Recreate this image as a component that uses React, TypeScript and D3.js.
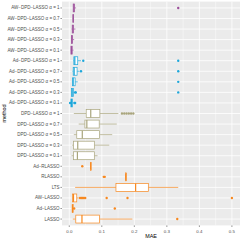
import React, { useEffect, useRef } from "react";
import * as d3 from "d3";

// methods, top to bottom as they appear on the y axis
const methods = [
  "AW−DPD−LASSO α = 1",
  "AW−DPD−LASSO α = 0.7",
  "AW−DPD−LASSO α = 0.5",
  "AW−DPD−LASSO α = 0.3",
  "AW−DPD−LASSO α = 0.1",
  "Ad−DPD−LASSO α = 1",
  "Ad−DPD−LASSO α = 0.7",
  "Ad−DPD−LASSO α = 0.5",
  "Ad−DPD−LASSO α = 0.3",
  "Ad−DPD−LASSO α = 0.1",
  "DPD−LASSO α = 1",
  "DPD−LASSO α = 0.7",
  "DPD−LASSO α = 0.5",
  "DPD−LASSO α = 0.3",
  "DPD−LASSO α = 0.1",
  "Ad−RLASSO",
  "RLASSO",
  "LTS",
  "AW−LASSO",
  "Ad−LASSO",
  "LASSO",
];

const groups = [
  "AW", "AW", "AW", "AW", "AW",
  "Ad", "Ad", "Ad", "Ad", "Ad",
  "DPD", "DPD", "DPD", "DPD", "DPD",
  "classic", "classic", "classic", "classic", "classic", "classic",
];

const groupColors: Record<string, string> = {
  AW: "#9C4F9A",
  Ad: "#1EA7DA",
  DPD: "#A9A57C",
  classic: "#F7881F",
};

// boxplot stats (MAE)
const lowers = [0.012, 0.011, 0.007, 0.005, 0.004, 0.012, 0.010, 0.008, 0.005, 0.003, 0.014, 0.029, 0.014, 0.009, 0.007, 0.065, 0.173, 0.018, 0.008, 0.008, 0.011];
const q1s = [0.012, 0.0115, 0.009, 0.007, 0.005, 0.014, 0.012, 0.010, 0.007, 0.005, 0.052, 0.048, 0.023, 0.013, 0.013, 0.065, 0.173, 0.1435, 0.010, 0.009, 0.020];
const medians = [0.014, 0.012, 0.011, 0.008, 0.007, 0.017, 0.015, 0.012, 0.009, 0.007, 0.066, 0.054, 0.040, 0.026, 0.025, 0.066, 0.174, 0.204, 0.013, 0.010, 0.039];
const q3s = [0.016, 0.0125, 0.013, 0.010, 0.009, 0.026, 0.024, 0.018, 0.013, 0.010, 0.094, 0.092, 0.093, 0.077, 0.077, 0.067, 0.175, 0.243, 0.023, 0.012, 0.093];
const uppers = [0.021, 0.013, 0.019, 0.015, 0.013, 0.036, 0.031, 0.026, 0.016, 0.014, 0.151, 0.146, 0.132, 0.123, 0.087, 0.067, 0.175, 0.335, 0.029, 0.013, 0.194];
const outliers: number[][] = [
  [0.335],
  [],
  [],
  [],
  [],
  [0.043, 0.335],
  [0.036, 0.335],
  [0.335],
  [0.018, 0.020, 0.335],
  [0.0025, 0.016, 0.018],
  [0.162, 0.169, 0.176, 0.183, 0.190, 0.197],
  [],
  [],
  [],
  [],
  [0.040],
  [0.106, 0.109],
  [],
  [0.033, 0.037, 0.041, 0.045, 0.049, 0.115, 0.179, 0.500],
  [0.015, 0.140],
  [0.332],
];

const xTicks = [0, 0.1, 0.2, 0.3, 0.4, 0.5];

const W = 242;
const H = 242;
const margin = { top: 1.6, right: 2, bottom: 16.6, left: 62 };
const font = "'Liberation Sans', Arial, Helvetica, sans-serif";

export default function App() {
  const ref = useRef<SVGSVGElement>(null);

  useEffect(() => {
    const svg = d3.select(ref.current);
    svg.selectAll("*").remove();

    const all = methods.flatMap((m, i) => [lowers[i], uppers[i], ...outliers[i]]);
    const [lo, hi] = d3.extent(all) as [number, number];
    const pad = (hi - lo) * 0.05;

    const x = d3.scaleLinear()
      .domain([lo - pad, hi + pad])
      .range([margin.left, W - margin.right]);

    const y = d3.scalePoint<string>()
      .domain(methods)
      .range([margin.top, H - margin.bottom])
      .padding(0.6);

    const boxH = y.step() * 0.75;

    // panel
    svg.append("rect")
      .attr("x", margin.left)
      .attr("y", margin.top)
      .attr("width", W - margin.right - margin.left)
      .attr("height", H - margin.bottom - margin.top)
      .attr("fill", "#EBEBEB");

    const minor = xTicks.slice(0, -1).map(t => t + 0.05);
    svg.append("g")
      .selectAll("line")
      .data(minor)
      .join("line")
      .attr("x1", d => x(d)).attr("x2", d => x(d))
      .attr("y1", margin.top).attr("y2", H - margin.bottom)
      .attr("stroke", "#FFFFFF")
      .attr("stroke-width", 0.4);

    svg.append("g")
      .selectAll("line")
      .data(xTicks)
      .join("line")
      .attr("x1", d => x(d)).attr("x2", d => x(d))
      .attr("y1", margin.top).attr("y2", H - margin.bottom)
      .attr("stroke", "#FFFFFF")
      .attr("stroke-width", 0.8);

    svg.append("g")
      .selectAll("line")
      .data(methods)
      .join("line")
      .attr("x1", margin.left).attr("x2", W - margin.right)
      .attr("y1", d => y(d)!).attr("y2", d => y(d)!)
      .attr("stroke", "#FFFFFF")
      .attr("stroke-width", 0.8);

    // boxes
    const boxes = svg.append("g")
      .selectAll("g")
      .data(methods.map((m, i) => ({
        m, col: groupColors[groups[i]],
        lo: lowers[i], q1: q1s[i], med: medians[i], q3: q3s[i], hi: uppers[i], out: outliers[i],
      })))
      .join("g");

    boxes.append("line")
      .attr("x1", d => x(d.lo)).attr("x2", d => x(d.q1))
      .attr("y1", d => y(d.m)!).attr("y2", d => y(d.m)!)
      .attr("stroke", d => d.col).attr("stroke-width", 0.7);
    boxes.append("line")
      .attr("x1", d => x(d.q3)).attr("x2", d => x(d.hi))
      .attr("y1", d => y(d.m)!).attr("y2", d => y(d.m)!)
      .attr("stroke", d => d.col).attr("stroke-width", 0.7);
    boxes.append("rect")
      .attr("x", d => x(d.q1))
      .attr("width", d => x(d.q3) - x(d.q1))
      .attr("y", d => y(d.m)! - boxH / 2)
      .attr("height", boxH)
      .attr("fill", "#FFFFFF")
      .attr("stroke", d => d.col).attr("stroke-width", 0.7);
    boxes.append("line")
      .attr("x1", d => x(d.med)).attr("x2", d => x(d.med))
      .attr("y1", d => y(d.m)! - boxH / 2).attr("y2", d => y(d.m)! + boxH / 2)
      .attr("stroke", d => d.col).attr("stroke-width", 1.2);
    boxes.selectAll("circle")
      .data(d => d.out.map(v => ({ v, m: d.m, col: d.col })))
      .join("circle")
      .attr("cx", d => x(d.v))
      .attr("cy", d => y(d.m)!)
      .attr("r", 1.2)
      .attr("fill", d => d.col);

    // x axis
    const xa = svg.append("g");
    xa.selectAll("line")
      .data(xTicks)
      .join("line")
      .attr("x1", d => x(d)).attr("x2", d => x(d))
      .attr("y1", H - margin.bottom).attr("y2", H - margin.bottom + 1.6)
      .attr("stroke", "#333333").attr("stroke-width", 0.5);
    xa.selectAll("text")
      .data(xTicks)
      .join("text")
      .attr("x", d => x(d))
      .attr("y", H - margin.bottom + 7.6)
      .attr("text-anchor", "middle")
      .attr("font-family", font)
      .attr("font-size", 4.4)
      .attr("fill", "#4D4D4D")
      .text(d => d3.format(".1f")(d));
    svg.append("text")
      .attr("x", (margin.left + W - margin.right) / 2)
      .attr("y", 238.4)
      .attr("text-anchor", "middle")
      .attr("font-family", font)
      .attr("font-size", 5.4)
      .attr("fill", "#000000")
      .text("MAE");

    // y axis
    const ya = svg.append("g");
    ya.selectAll("line")
      .data(methods)
      .join("line")
      .attr("x1", margin.left - 1.6).attr("x2", margin.left)
      .attr("y1", d => y(d)!).attr("y2", d => y(d)!)
      .attr("stroke", "#333333").attr("stroke-width", 0.5);
    ya.selectAll("text")
      .data(methods)
      .join("text")
      .attr("x", margin.left - 2.4)
      .attr("y", d => y(d)! + 1.5)
      .attr("text-anchor", "end")
      .attr("font-family", font)
      .attr("font-size", 4.5)
      .attr("fill", "#4D4D4D")
      .text(d => d);
    svg.append("text")
      .attr("transform", `translate(6.4,${(margin.top + H - margin.bottom) / 2}) rotate(-90)`)
      .attr("text-anchor", "middle")
      .attr("font-family", font)
      .attr("font-size", 5.4)
      .attr("fill", "#000000")
      .text("method");
  }, []);

  return (
    <svg
      ref={ref}
      width={W}
      height={H}
      style={{ position: "absolute", left: 0, top: 0, background: "#FFFFFF" }}
    />
  );
}
